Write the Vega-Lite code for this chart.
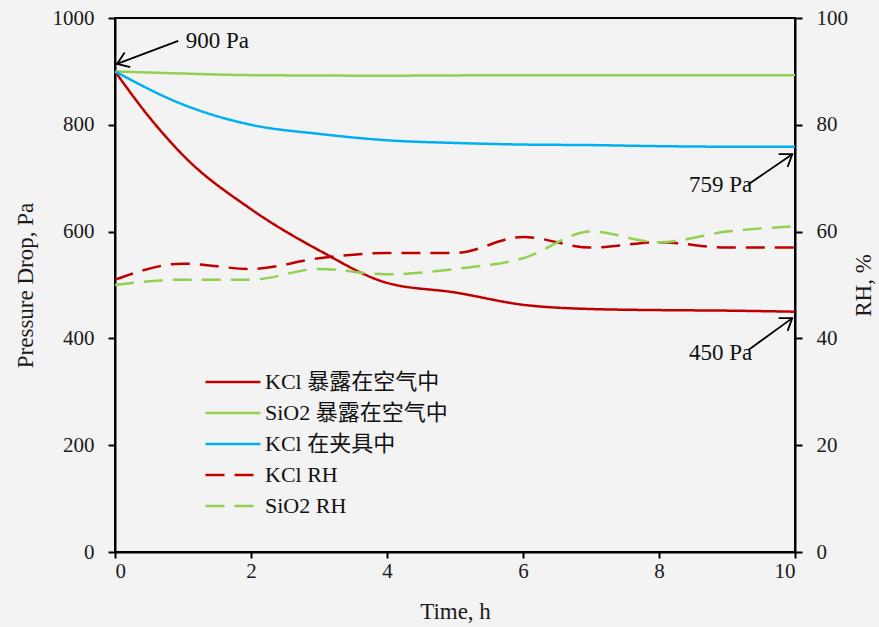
{
  "$schema": "https://vega.github.io/schema/vega-lite/v6.json",
  "width": 680,
  "height": 534,
  "autosize": "none",
  "padding": {"left": 115, "top": 18, "right": 84, "bottom": 75},
  "background": "#f3f3f3",
  "config": {
    "view": {"stroke": "black", "strokeWidth": 2},
    "font": "Liberation Serif",
    "axis": {
      "grid": false,
      "domainColor": "black",
      "domainWidth": 2,
      "tickColor": "black",
      "tickWidth": 2,
      "tickSize": 7,
      "labelFont": "Liberation Serif",
      "labelFontSize": 21,
      "labelColor": "#1a1a1a",
      "titleFont": "Liberation Serif",
      "titleFontSize": 23,
      "titleFontWeight": "normal",
      "titleColor": "#1a1a1a"
    }
  },
  "datasets": {
    "pressure": [
      {"t": 0, "p": 900, "series": "KCl  暴露在空气中"},
      {"t": 0.5, "p": 815, "series": "KCl  暴露在空气中"},
      {"t": 1, "p": 743, "series": "KCl  暴露在空气中"},
      {"t": 2, "p": 642, "series": "KCl  暴露在空气中"},
      {"t": 3, "p": 565, "series": "KCl  暴露在空气中"},
      {"t": 4, "p": 504, "series": "KCl  暴露在空气中"},
      {"t": 5, "p": 486, "series": "KCl  暴露在空气中"},
      {"t": 6, "p": 463, "series": "KCl  暴露在空气中"},
      {"t": 7, "p": 455, "series": "KCl  暴露在空气中"},
      {"t": 8, "p": 453, "series": "KCl  暴露在空气中"},
      {"t": 9, "p": 452, "series": "KCl  暴露在空气中"},
      {"t": 10, "p": 450, "series": "KCl  暴露在空气中"},
      {"t": 0, "p": 900, "series": "SiO2 暴露在空气中"},
      {"t": 1, "p": 896, "series": "SiO2 暴露在空气中"},
      {"t": 2, "p": 893, "series": "SiO2 暴露在空气中"},
      {"t": 4, "p": 892, "series": "SiO2 暴露在空气中"},
      {"t": 6, "p": 893, "series": "SiO2 暴露在空气中"},
      {"t": 8, "p": 893, "series": "SiO2 暴露在空气中"},
      {"t": 10, "p": 893, "series": "SiO2 暴露在空气中"},
      {"t": 0, "p": 900, "series": "KCl 在夹具中"},
      {"t": 1, "p": 838, "series": "KCl 在夹具中"},
      {"t": 2, "p": 800, "series": "KCl 在夹具中"},
      {"t": 3, "p": 783, "series": "KCl 在夹具中"},
      {"t": 4, "p": 771, "series": "KCl 在夹具中"},
      {"t": 5, "p": 766, "series": "KCl 在夹具中"},
      {"t": 6, "p": 763, "series": "KCl 在夹具中"},
      {"t": 7, "p": 762, "series": "KCl 在夹具中"},
      {"t": 8, "p": 760, "series": "KCl 在夹具中"},
      {"t": 9, "p": 759, "series": "KCl 在夹具中"},
      {"t": 10, "p": 759, "series": "KCl 在夹具中"}
    ],
    "rh": [
      {"t": 0, "rh": 51, "series": "KCl RH"},
      {"t": 1, "rh": 54, "series": "KCl RH"},
      {"t": 2, "rh": 53, "series": "KCl RH"},
      {"t": 3, "rh": 55, "series": "KCl RH"},
      {"t": 4, "rh": 56, "series": "KCl RH"},
      {"t": 5, "rh": 56, "series": "KCl RH"},
      {"t": 6, "rh": 59, "series": "KCl RH"},
      {"t": 7, "rh": 57, "series": "KCl RH"},
      {"t": 8, "rh": 58, "series": "KCl RH"},
      {"t": 9, "rh": 57, "series": "KCl RH"},
      {"t": 10, "rh": 57, "series": "KCl RH"},
      {"t": 0, "rh": 50, "series": "SiO2 RH"},
      {"t": 1, "rh": 51, "series": "SiO2 RH"},
      {"t": 2, "rh": 51, "series": "SiO2 RH"},
      {"t": 3, "rh": 53, "series": "SiO2 RH"},
      {"t": 4, "rh": 52, "series": "SiO2 RH"},
      {"t": 5, "rh": 53, "series": "SiO2 RH"},
      {"t": 6, "rh": 55, "series": "SiO2 RH"},
      {"t": 7, "rh": 60, "series": "SiO2 RH"},
      {"t": 8, "rh": 58, "series": "SiO2 RH"},
      {"t": 9, "rh": 60, "series": "SiO2 RH"},
      {"t": 10, "rh": 61, "series": "SiO2 RH"}
    ],
    "notes": [
      {"id": "a900", "t": 0.03, "p": 914, "t2": 0.93, "p2": 957, "lt": 1.04, "lp": 957, "label": "900 Pa"},
      {"id": "a759", "t": 9.96, "p": 745, "t2": 9.31, "p2": 688, "lt": 9.37, "lp": 687, "label": "759 Pa"},
      {"id": "a450", "t": 9.96, "p": 438, "t2": 9.31, "p2": 378, "lt": 9.37, "lp": 373, "label": "450 Pa"}
    ]
  },
  "layer": [
    {
      "layer": [
        {
          "data": {"name": "pressure"},
          "mark": {"type": "line", "strokeWidth": 2.5, "interpolate": "monotone"},
          "encoding": {
            "x": {"field": "t", "type": "quantitative", "scale": {"domain": [0, 10], "nice": false},
                  "axis": {"values": [0, 2, 4, 6, 8, 10], "format": "d", "title": "Time, h", "labelPadding": 2, "titlePadding": 19, "tickSize": 6}},
            "y": {"field": "p", "type": "quantitative", "scale": {"domain": [0, 1000], "nice": false},
                  "axis": {"values": [0, 200, 400, 600, 800, 1000], "format": "d", "title": "Pressure Drop, Pa", "labelPadding": 14, "titlePadding": 15}},
            "color": {"field": "series", "type": "nominal",
              "scale": {"domain": ["KCl  暴露在空气中", "SiO2 暴露在空气中", "KCl 在夹具中", "KCl RH", "SiO2 RH"],
                        "range": ["#c00000", "#92d050", "#00b0f0", "#c00000", "#92d050"]},
              "legend": {"title": null, "orient": "none", "legendX": 103, "legendY": 349,
                "labelFont": "Liberation Serif, Noto Sans CJK SC", "labelFontSize": 22, "labelColor": "#111", "labelLimit": 500,
                "symbolType": "M -2 0 L 2 0", "symbolSize": 756, "symbolStrokeWidth": 2.5, "rowPadding": 5, "labelOffset": 17}},
            "strokeDash": {"field": "series", "type": "nominal",
              "scale": {"domain": ["KCl  暴露在空气中", "SiO2 暴露在空气中", "KCl 在夹具中", "KCl RH", "SiO2 RH"],
                        "range": [[1, 0], [1, 0], [1, 0], [19, 10], [19, 10]]},
              "legend": {"title": null, "orient": "none", "legendX": 103, "legendY": 349,
                "labelFont": "Liberation Serif, Noto Sans CJK SC", "labelFontSize": 22, "labelColor": "#111", "labelLimit": 500,
                "symbolType": "M -2 0 L 2 0", "symbolSize": 756, "symbolStrokeWidth": 2.5, "rowPadding": 5, "labelOffset": 17}}
          }
        },
        {
          "data": {"name": "notes"},
          "mark": {"type": "rule", "color": "black", "strokeWidth": 1.8},
          "encoding": {
            "x": {"field": "t", "type": "quantitative"},
            "y": {"field": "p", "type": "quantitative"},
            "x2": {"field": "t2"},
            "y2": {"field": "p2"}
          }
        },
        {
          "data": {"name": "notes"},
          "transform": [{"filter": "datum.id === 'a900'"}],
          "mark": {"type": "point", "shape": "M -1 -0.7 L 0 0 L -1 0.7", "filled": false, "color": "black", "strokeWidth": 1.8, "size": 500, "angle": 159, "opacity": 1},
          "encoding": {
            "x": {"field": "t", "type": "quantitative"},
            "y": {"field": "p", "type": "quantitative"}
          }
        },
        {
          "data": {"name": "notes"},
          "transform": [{"filter": "datum.id !== 'a900'"}],
          "mark": {"type": "point", "shape": "M -1 -0.7 L 0 0 L -1 0.7", "filled": false, "color": "black", "strokeWidth": 1.8, "size": 500, "angle": 325, "opacity": 1},
          "encoding": {
            "x": {"field": "t", "type": "quantitative"},
            "y": {"field": "p", "type": "quantitative"}
          }
        },
        {
          "data": {"name": "notes"},
          "transform": [{"filter": "datum.id === 'a900'"}],
          "mark": {"type": "text", "align": "left", "baseline": "middle", "font": "Liberation Serif", "fontSize": 23, "color": "#111"},
          "encoding": {
            "x": {"field": "lt", "type": "quantitative"},
            "y": {"field": "lp", "type": "quantitative"},
            "text": {"field": "label"}
          }
        },
        {
          "data": {"name": "notes"},
          "transform": [{"filter": "datum.id !== 'a900'"}],
          "mark": {"type": "text", "align": "right", "baseline": "middle", "font": "Liberation Serif", "fontSize": 23, "color": "#111"},
          "encoding": {
            "x": {"field": "lt", "type": "quantitative"},
            "y": {"field": "lp", "type": "quantitative"},
            "text": {"field": "label"}
          }
        }
      ]
    },
    {
      "data": {"name": "rh"},
      "mark": {"type": "line", "strokeWidth": 2.5, "interpolate": "monotone"},
      "encoding": {
        "x": {"field": "t", "type": "quantitative"},
        "y": {"field": "rh", "type": "quantitative", "scale": {"domain": [0, 100], "nice": false},
              "axis": {"orient": "right", "values": [0, 20, 40, 60, 80, 100], "format": "d", "title": "RH, %", "titleAngle": -90, "labelPadding": 14, "titlePadding": 28}},
        "color": {"field": "series", "type": "nominal"},
        "strokeDash": {"field": "series", "type": "nominal"}
      }
    }
  ],
  "resolve": {"scale": {"y": "independent"}}
}
